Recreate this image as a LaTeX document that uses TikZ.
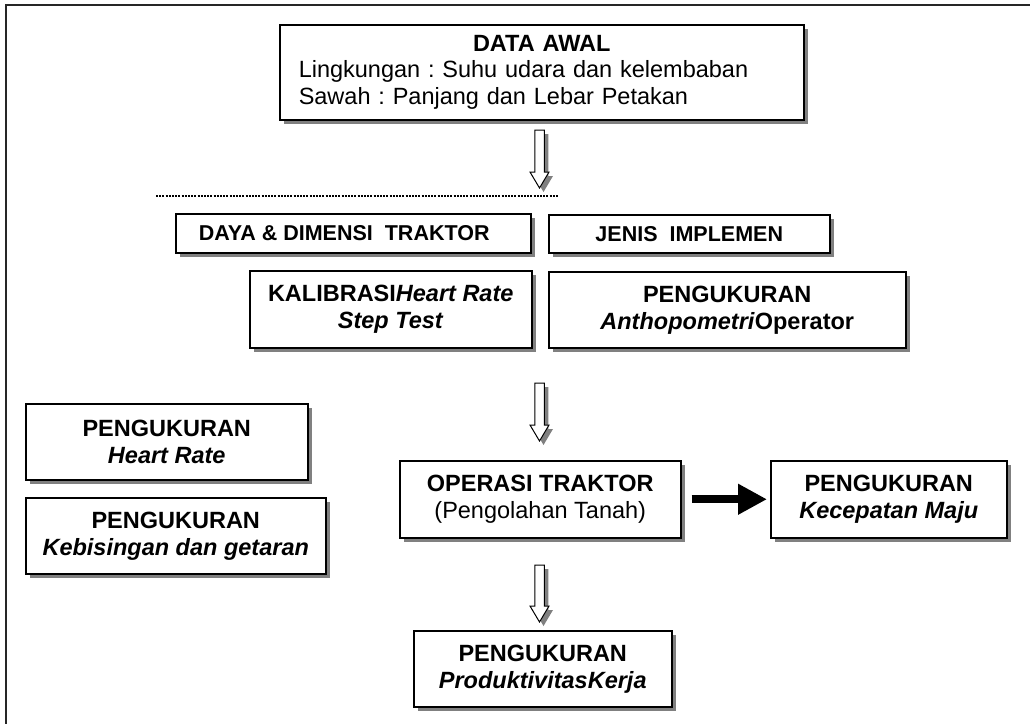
\documentclass[tikz,border=0pt]{standalone}
\usepackage{fontspec}
\setmainfont{Liberation Sans}
\usetikzlibrary{shadows,arrows.meta}
\frenchspacing
\begin{document}
\begin{tikzpicture}[x=1pt,y=-1pt,
  shad/.style={drop shadow={shadow xshift=4pt,shadow yshift=-4pt,fill=black!50,opacity=1}},
  box/.style={draw=black,line width=1.5pt,fill=white,shad,anchor=north west,inner sep=0pt,
    align=center,font=\fontsize{23.5}{27}\selectfont\bfseries},
  smallbox/.style={box,font=\fontsize{21.5}{25}\selectfont\bfseries},
  hollowdown/.pic={\draw[line width=1pt,fill=white,shad]
     (-4.75,0) -- (-4.75,#1-16) -- (-9.5,#1-16) -- (0,#1) -- (9.5,#1-16) -- (4.75,#1-16) -- (4.75,0) -- cycle;},
  boldarrow/.style={line width=8pt,-{Triangle[length=29pt,width=29pt]}}
]
\useasboundingbox (0,0) rectangle (1030,724);
% outer frame (top and left only)
\draw[line width=2pt,black!85] (1030,5) -- (6,5) -- (6,724);

\node[box,minimum width=524pt,minimum height=95pt,text width=486pt,align=left,
      font=\fontsize{23.5}{26.5}\selectfont] (data) at (279,24)
  {\makebox[\hsize][c]{\bfseries DATA AWAL}\\Lingkungan : Suhu udara dan kelembaban\\Sawah : Panjang dan Lebar Petakan};

\coordinate (a1) at (539.5,130);
\pic at (a1) {hollowdown=58};

\coordinate (dl) at (156,196);
\coordinate (dr) at (558,196);
\draw[line width=2pt,dash pattern=on 2pt off 1.2pt] (dl) -- (dr);

\node[smallbox,minimum width=355pt,minimum height=39pt] (daya) at (175,213) {DAYA \& DIMENSI\ \ TRAKTOR\hspace*{18pt}};
\node[smallbox,minimum width=281pt,minimum height=38pt] (jenis) at (548,214) {JENIS\ \ IMPLEMEN};

\node[box,minimum width=282pt,minimum height=77pt] (kal) at (249,270)
  {KALIBRASI\textit{Heart Rate}\\\textit{Step Test}};
\node[box,minimum width=357pt,minimum height=76pt] (anth) at (548,271)
  {PENGUKURAN\\\textit{Anthopometri}Operator};

\coordinate (a2) at (539.5,383);
\pic at (a2) {hollowdown=58};

\node[box,minimum width=282pt,minimum height=76pt] (hr) at (25,403)
  {PENGUKURAN\\\textit{Heart Rate}};
\node[box,minimum width=300pt,minimum height=76pt] (keb) at (25,497)
  {PENGUKURAN\\\textit{Kebisingan dan getaran}};

\node[box,minimum width=281pt,minimum height=77pt] (opr) at (399,460)
  {OPERASI TRAKTOR\\\mdseries(Pengolahan Tanah)};
\node[box,minimum width=236pt,minimum height=77pt] (kec) at (770,460)
  {PENGUKURAN\\\textit{Kecepatan Maju}};

\draw[boldarrow] ([xshift=10pt]opr.east) -- ([xshift=-3pt]kec.west);

\coordinate (a3) at (539.5,565);
\pic at (a3) {hollowdown=57};

\node[box,minimum width=258pt,minimum height=76pt] (prod) at (413,630)
  {PENGUKURAN\\\textit{ProduktivitasKerja}};
\end{tikzpicture}
\end{document}
